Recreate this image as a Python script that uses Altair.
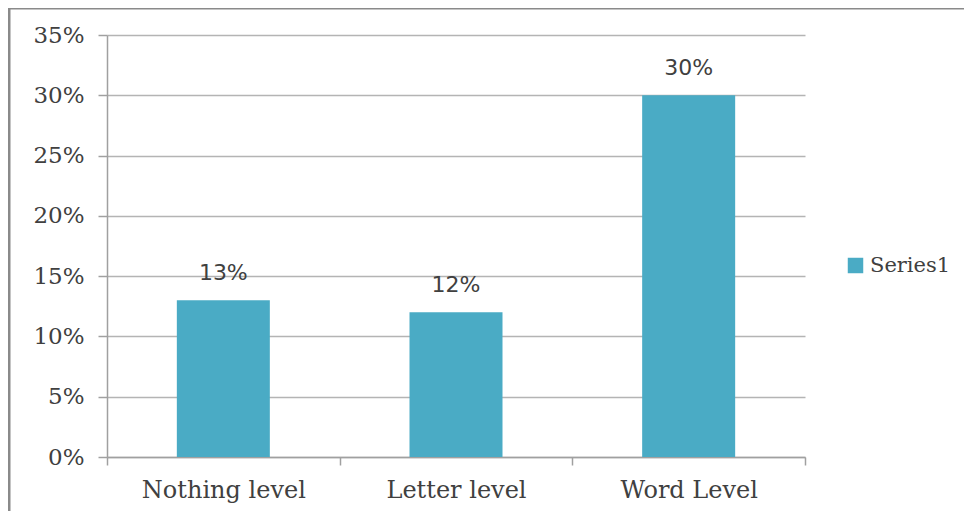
import altair as alt
import pandas as pd

categories = ["Nothing level", "Letter level", "Word Level"]
values = [0.13, 0.12, 0.30]
series = ["Series1", "Series1", "Series1"]

df = pd.DataFrame({"category": categories, "value": values, "series": series})

W, H = 698, 422

base = alt.Chart(df)

x_axis = alt.Axis(labelAngle=0, tickBand="extent", labelFont="DejaVu Serif",
                  labelFontSize=24, labelColor="#404040", labelPadding=13,
                  tickSize=8, tickColor="#a0a0a0", domainColor="#a0a0a0",
                  domainWidth=1.5, tickWidth=1.5, grid=False)

bars = base.mark_bar(size=93).encode(
    x=alt.X("category:N", sort=categories, title=None,
            scale=alt.Scale(paddingInner=0, paddingOuter=0),
            axis=x_axis),
    y=alt.Y("value:Q", title=None,
            scale=alt.Scale(domain=[0, 0.35], nice=False),
            axis=alt.Axis(values=[0, 0.05, 0.10, 0.15, 0.20, 0.25, 0.30, 0.35], format=".0%",
                          labelFont="DejaVu Serif", labelFontSize=23, labelColor="#404040",
                          labelPadding=14, tickSize=9, tickColor="#a0a0a0",
                          domainColor="#a0a0a0", domainWidth=1.5, tickWidth=1.5,
                          grid=True, gridColor="#b4b4b4", gridWidth=1.5)),
    color=alt.Color("series:N", title=None,
                    scale=alt.Scale(range=["#4AABC5"]),
                    legend=alt.Legend(orient="none", legendX=738, legendY=220,
                                      symbolType="square", symbolSize=240,
                                      symbolStrokeWidth=0,
                                      labelFont="DejaVu Serif", labelFontSize=21,
                                      labelColor="#404040", labelOffset=4)),
)

labels = base.mark_text(dy=-15, baseline="bottom", font="DejaVu Sans", fontSize=22,
                        color="#404040").encode(
    x=alt.X("category:N", sort=categories, axis=x_axis, title=None),
    y=alt.Y("value:Q"),
    text=alt.Text("value:Q", format=".0%"),
)

frame = alt.Chart(pd.DataFrame({"a": [0]})).mark_rule(
    stroke="#8a8a8a", strokeWidth=3
).encode(
    x=alt.value(-98), y=alt.value(-27), y2=alt.value(600)
)
frame_top = alt.Chart(pd.DataFrame({"a": [0]})).mark_rule(
    stroke="#8a8a8a", strokeWidth=3
).encode(
    x=alt.value(-99), x2=alt.value(1000), y=alt.value(-27)
)

chart = alt.layer(frame, frame_top, bars, labels).properties(
    width=W, height=H,
    background="white",
    autosize=alt.AutoSizeParams(type="none"),
    padding={"left": 99, "top": 27, "right": 159, "bottom": 54},
).configure_view(stroke=None, strokeWidth=0)

chart.save("out.html", embed_options={"renderer": "svg", "actions": False})
